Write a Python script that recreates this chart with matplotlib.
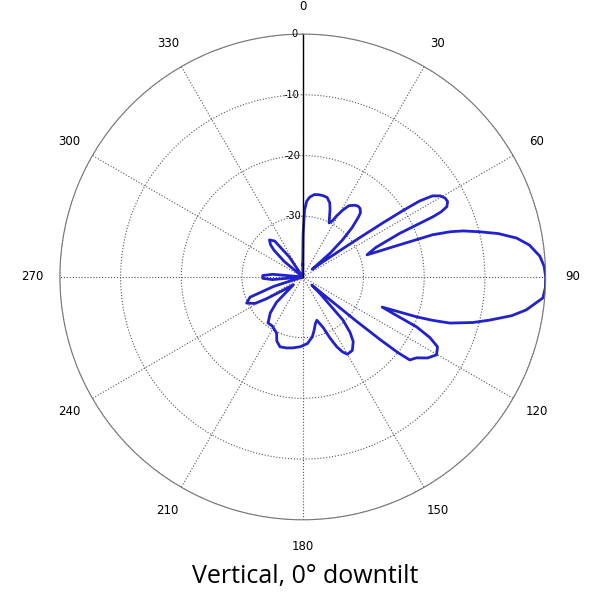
import numpy as np
import matplotlib.pyplot as plt

# vertical pattern, angle [deg] vs level [dB]
angle_deg = [0, 0.5, 1.5, 3, 5, 8, 11, 14, 17, 20, 22, 26, 28, 29, 31, 33, 36,
             38, 40, 42, 43, 45, 47, 49, 51, 53,
             55, 55.5, 56, 56.5, 57, 58, 59.5, 61, 62.5, 64, 64.8, 65.2, 65.8,
             68, 71, 71.3, 71.5, 72, 73, 74, 75.7, 77.5, 79.7, 82, 85, 87.5, 90,
             92.5, 95, 98.4, 100.5, 103, 105, 107.4, 108.5, 109.3, 110.8, 112,
             113.7, 115.5, 117.4, 120.2, 123, 125.4, 127.8, 128.5, 129, 129.5,
             130, 132, 134, 137, 139.5, 142, 146, 150, 152, 154, 156, 158, 162,
             165, 168, 171, 176, 182, 188, 193, 198, 202, 205, 212, 217, 222, 226,
             230, 236, 239, 241, 245, 249, 252, 256, 262, 265, 268, 272, 275, 278,
             305, 310, 313, 315, 318, 322, 326, 330, 358, 360]
level_db = [-38, -33, -29, -27.5, -26.8, -26.3, -26.2, -26.2, -26.3, -27, -28, -30.1,
            -29.5, -28.5, -27.1, -26, -25.4, -25.2, -25.3, -25.8, -26.6, -28.5, -31,
            -34, -38, -36,
            -31, -28, -24, -20, -17, -14.8, -13.7, -13.2, -13.1, -13.6, -14.8, -16.4,
            -22.5, -27, -28.8, -27, -24.8, -17.5, -14.5, -12.5, -9.9, -7, -4.2, -2.3,
            -0.8, -0.2, 0, 0, -0.3, -2.8, -5, -8.4, -11, -14.6, -17.5, -20.1, -26,
            -24, -19.5, -16.8, -15, -14.5, -15.5, -17, -17.7, -20, -23.6, -28.6,
            -34, -38, -36, -30.3, -28, -26.5, -25.4, -25.3, -26, -27.2, -29, -31,
            -32.5, -32, -31, -30, -29, -28.5, -28.2, -28, -27.9, -28.6, -29.8,
            -30.5, -30.5, -32, -34, -38, -36, -33, -31, -29.8, -30.7, -35, -40,
            -40, -35, -33.4, -33.4, -35, -40, -40, -36, -33.5, -32.5, -31.8, -32.5,
            -36, -40, -40, -38]

ring_db = [-30, -20, -10, 0]
ring_labels = ["-30", "-20", "-10", "0"]
theta_ticks = list(range(0, 360, 30))

fig = plt.figure(figsize=(6.11, 6.08), dpi=100)
ax = fig.add_axes([0.098, 0.145, 0.795, 0.799], projection="polar")
ax.set_theta_zero_location("N")
ax.set_theta_direction(-1)
ax.set_rlim(-40, 0)

ax.plot(np.radians(angle_deg), level_db, color="#2222cc", linewidth=2)

# solid radial axis along 0 deg
ax.plot([0, 0], [-40, 0], color="black", linewidth=1)

ax.set_thetagrids(theta_ticks, [str(t) for t in theta_ticks], fontsize=8.5)
ax.tick_params(axis="x", pad=9)
ax.set_rgrids(ring_db, [""] * len(ring_db))
for r, lab in zip(ring_db, ring_labels):
    ax.text(np.radians(-1.2), r, lab, fontsize=7, ha="right", va="center")
ax.grid(True, color="#555555", linestyle=":", linewidth=0.8)
ax.spines["polar"].set_color("#777777")
ax.spines["polar"].set_linewidth(0.8)

fig.text(0.5, 0.052, "Vertical, 0° downtilt", ha="center", va="center",
         fontsize=18, family="Open Sans")

fig.savefig("out.png", dpi=100)
